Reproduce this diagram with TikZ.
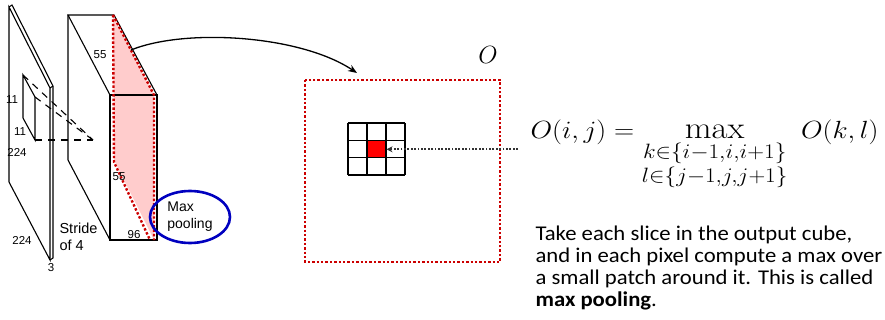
\documentclass[tikz,border=0pt]{standalone}
\usepackage{fontspec}
\usepackage{amsmath}
\setsansfont{Liberation Sans}
\newfontfamily\slidefont{Carlito}
\usetikzlibrary{arrows.meta,shapes.geometric}

\tikzset{
  reddots/.style={red!80!black, line width=2.4pt, dash pattern=on 2.4pt off 2pt},
  blackdots/.style={black!80, line width=1.8pt, dash pattern=on 1.8pt off 1.6pt},
  longdash/.style={dash pattern=on 7pt off 6pt},
  smalllbl/.style={font=\sffamily\fontsize{11.5}{12}\selectfont, inner sep=0pt},
}

\begin{document}
\begin{tikzpicture}[x=1pt,y=-1pt,line width=1.1pt]

\useasboundingbox (0,0) rectangle (885,320);

% Imagen de entrada
\draw (9,7) -- (50,88) -- (50,260) -- (9,182) -- cycle;
\draw (9,7) -- (12,5) -- (53,86) -- (53,258) -- (50,260);
\draw (50,88) -- (53,86);

% Campo receptivo
\draw (23,75) -- (35,97) -- (35,140) -- (23,118) -- cycle;
\coordinate (tgt) at (93,140);
\draw[longdash] (23,75) -- (tgt);
\draw[longdash] (35,97) -- (tgt);
\draw[longdash] (35,140) -- (tgt);

\node[smalllbl] at (12,100) {11};
\node[smalllbl] at (20,132) {11};
\node[smalllbl] at (17,152) {224};
\node[smalllbl] at (22,240) {224};
\node[smalllbl] at (51,268) {3};

% Corte rojo
\fill[red!20] (113,15) -- (154,95) -- (154,240) -- (114,160) -- cycle;

% Cubo de salida
\draw (110,95) rectangle (157,240);
\draw (110,95) -- (68,15) -- (114,15) -- (157,95);
\draw (68,15) -- (68,160) -- (110,240);

\draw[reddots] (113,15) -- (154,95) -- (154,240);
\draw[reddots] (113,15) -- (114,162) -- (150,240);

\node[smalllbl] at (100,55) {55};
\node[smalllbl] at (119,177) {55};
\node[smalllbl] at (134,235) {96};

\node[font=\sffamily\fontsize{14.5}{17}\selectfont, align=left, anchor=north west, inner sep=0pt]
  (stride) at (59,222) {Stride\\of 4};

% Max pooling
\node[draw=blue!75!black, line width=2.6pt, ellipse, minimum width=80pt, minimum height=52pt,
  inner sep=0pt, align=left, font=\sffamily\fontsize{14}{17}\selectfont] (pool) at (190,217) {Max\\pooling};

% Flecha al mapa O
\coordinate (from) at (131,50);
\coordinate (to) at (357,73);
\draw[-{Stealth[length=9pt,width=7pt]}, line width=1.3pt] (from) .. controls (185,28) and (300,35) .. (to);

% Mapa O
\draw[reddots] (305,80) rectangle (500,262);
\node[font=\fontsize{28}{30}\selectfont] (olbl) at (488,55) {$O$};

% Rejilla 3x3
\node[fill=red, minimum width=19pt, minimum height=17.3pt, inner sep=0pt] (cell) at (376.5,149.3) {};
\foreach \i in {0,1,2,3} {
  \draw (348+19*\i,123) -- (348+19*\i,175);
  \draw (348,123+17.33*\i) -- (405,123+17.33*\i);
}

% Formula
\node[anchor=base west, inner sep=0pt, xscale=1.12, transform shape, font=\fontsize{31}{33}\selectfont] (eq) at (530,139)
  {$O(i,j) = \max\limits_{\substack{k\in\{i-1,i,i+1\}\\ l\in\{j-1,j,j+1\}}}\hspace{8pt} O(k,l)$};
\coordinate (eqin) at (518,149.3);
\draw[blackdots, -{Stealth[length=6pt,width=6pt]}] (eqin) -- (cell.east);

% Texto
\node[anchor=north west, align=left, inner sep=0pt, xscale=1.08, transform shape, font=\slidefont\fontsize{21}{22}\selectfont]
  (txt) at (535,225) {Take each slice in the output cube,\\and in each pixel compute a max over\\a small patch around it. This is called\\\textbf{max pooling}.};

\end{tikzpicture}
\end{document}
